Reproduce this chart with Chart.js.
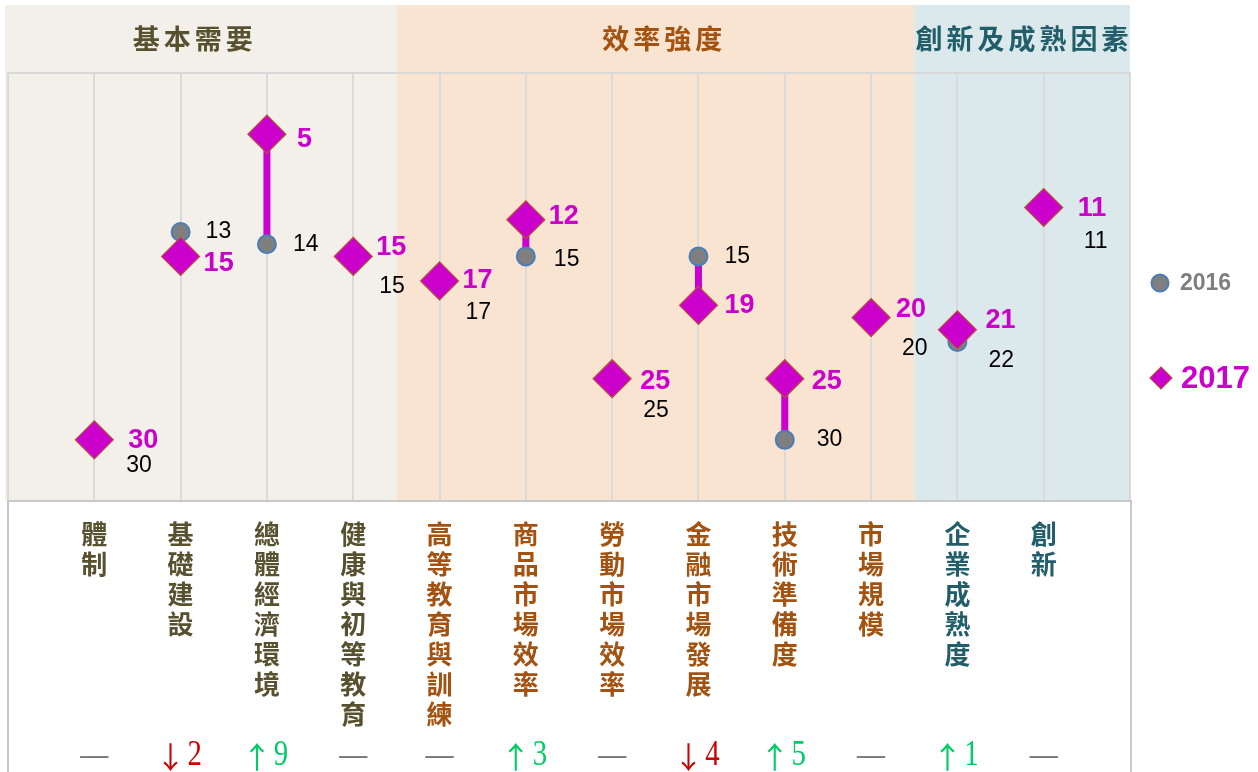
<!DOCTYPE html>
<html>
<head>
<meta charset="utf-8">
<script src="https://cdn.jsdelivr.net/npm/chart.js@4.4.1/dist/chart.umd.min.js"></script>
<style>
    html, body { margin: 0; padding: 0; background: #fff; }
    #wrap { width: 1258px; height: 772px; }
</style>
</head>
<body>
<div id="wrap"><canvas id="chart" width="1258" height="772"></canvas></div>
<script>
// ranks (lower = better)
const categories = ['體制', '基礎建設', '總體經濟環境', '健康與初等教育', '高等教育與訓練', '商品市場效率',
    '勞動市場效率', '金融市場發展', '技術準備度', '市場規模', '企業成熟度', '創新'];
const rank2016 = [30, 13, 14, 15, 17, 15, 25, 15, 30, 20, 22, 11];
const rank2017 = [30, 15, 5, 15, 17, 12, 25, 19, 25, 20, 21, 11];
const seriesNames = ['2016', '2017'];
const groupNames = ['基本需要', '效率強度', '創新及成熟因素'];
const groupSizes = [4, 6, 2];

// styles
const groupFill = ['#f3f0e9', '#f9e4d2', '#dce9ec'];
const groupInk = ['#57512f', '#a35210', '#225e6a'];
const headerNudge = [-6, 9, 2];
const magenta = '#cc00cc';
// label nudges [dx, dy] from the marker centre
const offs2016 = [[32, 26], [25, 0], [26, 0], [26, 30], [26, 32], [28, 3], [31, 32], [26, 0], [32, 0], [31, 31], [31, 19], [40, 34]];
const offs2017 = [[34, 1], [23, 7], [30, 5], [23, -9], [23, 0], [23, -3], [28, 3], [26, 0], [27, 3], [25, -8], [28, -9], [34, 1]];

const xs = categories.map((c, i) => i + 1);

let connectors = [];
categories.forEach((c, i) => {
    connectors.push({x: xs[i], y: rank2016[i]});
    connectors.push({x: xs[i], y: rank2017[i]});
    connectors.push({x: xs[i], y: null});
});

const decor = {
    id: 'decor',
    beforeDraw(chart) {
        const ctx = chart.ctx;
        const a = chart.chartArea;
        const x = chart.scales.x;
        ctx.save();
        ctx.fillStyle = '#fff';
        ctx.fillRect(0, 0, chart.width, chart.height);

        // group bands + headers
        let start = 0;
        groupSizes.forEach((n, g) => {
            const x0 = g === 0 ? 5 : x.getPixelForValue(start + 0.5);
            const x1 = g === groupSizes.length - 1 ? a.right : x.getPixelForValue(start + n + 0.5);
            ctx.fillStyle = groupFill[g];
            ctx.fillRect(x0, 5, x1 - x0, a.bottom - 5);
            ctx.fillStyle = groupInk[g];
            ctx.font = 'bold 27px "Noto Sans CJK TC"';
            ctx.textAlign = 'center';
            ctx.textBaseline = 'middle';
            ctx.letterSpacing = '4px';
            ctx.fillText(groupNames[g], (x0 + x1) / 2 + headerNudge[g], 39);
            start += n;
        });
        ctx.letterSpacing = '0px';

        // vertical grid
        ctx.strokeStyle = '#dadada';
        ctx.lineWidth = 2;
        xs.forEach(v => {
            const px = Math.round(x.getPixelForValue(v));
            ctx.beginPath();
            ctx.moveTo(px, a.top);
            ctx.lineTo(px, a.bottom);
            ctx.stroke();
        });
        ctx.strokeStyle = '#d8d8d8';
        ctx.strokeRect(a.left, a.top, a.right - a.left, a.bottom - a.top);
        ctx.restore();
    },
    afterDraw(chart) {
        const ctx = chart.ctx;
        const a = chart.chartArea;
        const x = chart.scales.x;
        ctx.save();

        // data labels
        const m17 = chart.getDatasetMeta(0);
        const m16 = chart.getDatasetMeta(1);
        ctx.textAlign = 'left';
        ctx.textBaseline = 'middle';
        m16.data.forEach((pt, i) => {
            ctx.font = '23px "Liberation Sans"';
            ctx.fillStyle = '#000';
            ctx.fillText(String(rank2016[i]), pt.x + offs2016[i][0], pt.y + offs2016[i][1]);
        });
        m17.data.forEach((pt, i) => {
            ctx.font = 'bold 27px "Liberation Sans"';
            ctx.fillStyle = magenta;
            ctx.fillText(String(rank2017[i]), pt.x + offs2017[i][0], pt.y + offs2017[i][1]);
        });

        // lower box with category names
        ctx.strokeStyle = '#c8c8c8';
        ctx.lineWidth = 2;
        ctx.strokeRect(a.left, a.bottom, a.right - a.left + 1, chart.height - a.bottom + 4);
        ctx.textAlign = 'center';
        let g = 0, cnt = 0;
        categories.forEach((name, i) => {
            if (cnt >= groupSizes[g]) { g++; cnt = 0; }
            cnt++;
            const px = x.getPixelForValue(xs[i]);
            ctx.fillStyle = groupInk[g];
            ctx.font = 'bold 26px "Noto Sans CJK TC"';
            Array.from(name).forEach((ch, k) => ctx.fillText(ch, px, 534 + k * 30));

            // rank change row
            const d = rank2016[i] - rank2017[i];
            if (d === 0) {
                ctx.fillStyle = '#7a7a7a';
                ctx.font = 'bold 28px "Liberation Serif"';
                ctx.fillText('—', px, 756);
            } else {
                ctx.fillStyle = d > 0 ? '#00cc66' : '#cc0000';
                ctx.font = '30px "Noto Sans CJK TC"';
                ctx.fillText(d > 0 ? '↑' : '↓', px - 10, 757);
                ctx.save();
                ctx.translate(px + 14, 756);
                ctx.scale(0.8, 1);
                ctx.font = '36px "Liberation Serif"';
                ctx.fillText(String(Math.abs(d)), 0, 0);
                ctx.restore();
            }
        });

        // legend
        ctx.textAlign = 'left';
        ctx.beginPath();
        ctx.arc(1160, 283, 8.5, 0, Math.PI * 2);
        ctx.fillStyle = '#7f7f7f';
        ctx.fill();
        ctx.strokeStyle = '#4a7ebb';
        ctx.lineWidth = 2;
        ctx.stroke();
        ctx.font = 'bold 23px "Liberation Sans"';
        ctx.fillText(seriesNames[0], 1180, 284);

        ctx.beginPath();
        ctx.moveTo(1161, 367);
        ctx.lineTo(1172, 378);
        ctx.lineTo(1161, 389);
        ctx.lineTo(1150, 378);
        ctx.closePath();
        ctx.fillStyle = magenta;
        ctx.fill();
        ctx.strokeStyle = '#b5503a';
        ctx.lineWidth = 1.2;
        ctx.stroke();
        ctx.font = 'bold 31px "Liberation Sans"';
        ctx.fillText(seriesNames[1], 1181, 379);
        ctx.restore();
    }
};

const data = {
    datasets: [{
        label: seriesNames[1],
        type: 'scatter',
        data: xs.map((v, i) => ({x: v, y: rank2017[i]})),
        pointStyle: 'rectRot',
        pointRadius: 19,
        pointHoverRadius: 19,
        backgroundColor: magenta,
        borderColor: '#b5503a',
        borderWidth: 1.2,
        order: 0
    }, {
        label: seriesNames[0],
        type: 'scatter',
        data: xs.map((v, i) => ({x: v, y: rank2016[i]})),
        pointStyle: 'circle',
        pointRadius: 9,
        pointHoverRadius: 9,
        backgroundColor: '#7f7f7f',
        borderColor: '#4a7ebb',
        borderWidth: 2,
        order: 1
    }, {
        label: 'change',
        type: 'line',
        data: connectors,
        borderColor: magenta,
        borderWidth: 7,
        pointRadius: 0,
        spanGaps: false,
        order: 2
    }]
};

const options = {
    responsive: false,
    animation: false,
    layout: {
        autoPadding: false,
        padding: {left: 8, top: 73, right: 128, bottom: 271}
    },
    scales: {
        x: {type: 'linear', min: 0, max: 13, display: false},
        y: {type: 'linear', min: 0, max: 35, reverse: true, display: false}
    },
    plugins: {
        legend: {display: false},
        tooltip: {enabled: false}
    }
};

const chart = new Chart(document.getElementById('chart'), {
    type: 'scatter',
    data: data,
    options: options,
    plugins: [decor]
});
</script>
</body>
</html>
